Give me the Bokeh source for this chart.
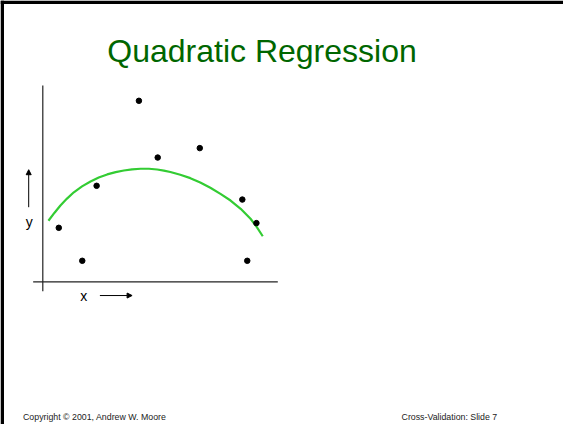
from bokeh.plotting import figure
from bokeh.models import Range1d, Label, Arrow, NormalHead
from bokeh.embed import file_html
from bokeh.resources import INLINE

# Observed data points (arbitrary units, axes run 0..10)
x_pts = [0.68, 1.68, 2.29, 4.09, 4.89, 6.68, 8.49, 9.09, 8.70]
y_pts = [2.75, 1.07, 4.89, 9.22, 6.33, 6.81, 4.19, 2.99, 1.07]

# Fitted quadratic curve, sampled along x
curve_x = [0.24, 0.50, 0.75, 1.03, 1.32, 1.67, 2.03, 2.38, 2.74, 3.10, 3.45, 3.80, 4.16,
           4.52, 4.87, 5.15, 5.43, 5.85, 6.28, 6.70, 7.13, 7.56, 7.99, 8.42, 8.84, 9.10, 9.36]
curve_y = [3.11, 3.52, 3.89, 4.24, 4.56, 4.86, 5.11, 5.31, 5.47, 5.59, 5.67, 5.73, 5.76,
           5.76, 5.72, 5.665, 5.595, 5.45, 5.28, 5.06, 4.79, 4.48, 4.14, 3.72, 3.21, 2.80, 2.32]

W, H = 563, 424
# pixel location of the axes origin and scale (pixels per unit)
OX, OY = 42.3, 281.3
KX, KY = 23.5, 19.63


def dx(px):
    return (px - OX) / KX


def dy(py):
    return (OY - py) / KY


p = figure(width=W, height=H, output_backend="svg", toolbar_location=None,
           x_range=Range1d(dx(0), dx(W)), y_range=Range1d(dy(H), dy(0)),
           min_border=0, x_axis_location=None, y_axis_location=None)
p.grid.visible = False
p.outline_line_color = None
p.background_fill_color = "white"
p.border_fill_color = "white"

# slide frame (left and top edges)
p.quad(left=dx(0), right=dx(3.5), top=dy(0), bottom=dy(H), color="black", line_color=None)
p.quad(left=dx(0), right=dx(W), top=dy(0), bottom=dy(3.5), color="black", line_color=None)

# hand-drawn style axes crossing near the origin
p.segment(x0=[0, -0.41], y0=[-0.48, 0], x1=[0, 10.0], y1=[10.0, 0],
          line_color="#222222", line_width=1.2)

# quadratic fit
p.line(curve_x, curve_y, line_color="#33cc33", line_width=2.2)

# data points
p.scatter(x_pts, y_pts, size=5.5, color="black")

# axis direction arrows
p.add_layout(Arrow(end=NormalHead(size=5, fill_color="black", line_color="black"),
                   x_start=-0.6, y_start=3.80, x_end=-0.6, y_end=5.71,
                   line_color="black", line_width=1))
p.add_layout(Arrow(end=NormalHead(size=5, fill_color="black", line_color="black"),
                   x_start=2.43, y_start=-0.70, x_end=3.80, y_end=-0.70,
                   line_color="black", line_width=1))

font = "Liberation Sans"
p.add_layout(Label(x=dx(28.7), y=dy(221.7), text="y", text_font=font, text_font_size="14px",
                   text_align="center", text_baseline="middle", text_color="black"))
p.add_layout(Label(x=dx(83.3), y=dy(295), text="x", text_font=font, text_font_size="14px",
                   text_align="center", text_baseline="middle", text_color="black"))

# title and footer
p.add_layout(Label(x=dx(261.5), y=dy(50), text="Quadratic Regression", text_font=font,
                   text_font_size="32px", text_align="center", text_baseline="alphabetic",
                   text_color="#006600"))
p.add_layout(Label(x=dx(22.5), y=dy(416.5), text="Copyright © 2001, Andrew W. Moore",
                   text_font=font, text_font_size="8.8px", text_align="left",
                   text_baseline="alphabetic", text_color="#222222"))
p.add_layout(Label(x=dx(496.7), y=dy(416.5), text="Cross-Validation: Slide 7",
                   text_font=font, text_font_size="8.8px", text_align="right",
                   text_baseline="alphabetic", text_color="#222222"))

open("out.html", "w").write(file_html(p, INLINE))
